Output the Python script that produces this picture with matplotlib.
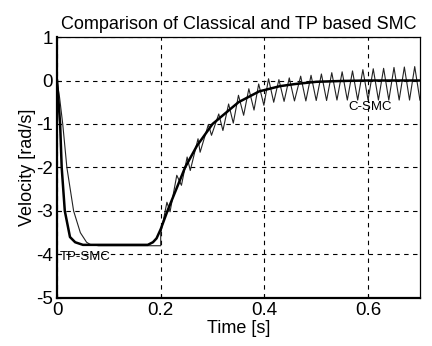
import matplotlib
matplotlib.use("Agg")
import matplotlib.pyplot as plt

plt.rcParams['font.family'] = ['Liberation Sans', 'DejaVu Sans']

# TP-SMC (thick) response
tp_t = [0, 0.003, 0.006, 0.009, 0.015, 0.025, 0.035, 0.05, 0.175, 0.185, 0.192, 0.2,
        0.213, 0.23, 0.247, 0.27, 0.30, 0.33, 0.35, 0.39, 0.43, 0.46, 0.5, 0.55, 0.6, 0.7]
tp_v = [0, -0.5, -1.0, -2.0, -3.0, -3.6, -3.72, -3.78, -3.78, -3.72, -3.63, -3.42,
        -3.0, -2.5, -2.0, -1.5, -1.0, -0.7, -0.5, -0.25, -0.13, -0.08, -0.03, -0.01, 0, 0]

# Classical SMC (thin) response
c_t = [0, 0.005, 0.011, 0.019, 0.032, 0.045, 0.057, 0.064, 0.08, 0.2, 0.2,
       0.212, 0.218, 0.231, 0.240, 0.251, 0.257, 0.272, 0.276, 0.292, 0.298,
       0.312, 0.320, 0.331, 0.340, 0.350, 0.360, 0.370, 0.380, 0.389, 0.399,
       0.408, 0.418, 0.428, 0.438, 0.448, 0.458, 0.47, 0.48, 0.49, 0.50,
       0.51, 0.52, 0.53, 0.54, 0.55, 0.56, 0.57, 0.58, 0.59, 0.60,
       0.61, 0.62, 0.63, 0.64, 0.65, 0.66, 0.67, 0.68, 0.69, 0.70]
c_v = [0, -0.4, -1.0, -2.0, -3.0, -3.5, -3.72, -3.77, -3.8, -3.8, -3.52,
       -2.80, -3.02, -2.18, -2.41, -1.76, -2.07, -1.34, -1.65, -1.01, -1.26,
       -0.77, -1.15, -0.54, -0.98, -0.34, -0.80, -0.19, -0.68, -0.08, -0.57,
       0.04, -0.50, 0.02, -0.48, 0.06, -0.47, 0.10, -0.47, 0.12, -0.46,
       0.15, -0.46, 0.18, -0.45, 0.20, -0.45, 0.22, -0.45, 0.25, -0.45,
       0.27, -0.45, 0.28, -0.45, 0.30, -0.45, 0.31, -0.45, 0.32, -0.45]

x_ticks = [0, 0.2, 0.4, 0.6]
x_tick_labels = ['0', '0.2', '0.4', '0.6']
y_ticks = [1, 0, -1, -2, -3, -4, -5]
y_tick_labels = ['1', '0', '-1', '-2', '-3', '-4', '-5']

fig = plt.figure(figsize=(4.32, 3.46), dpi=100)
ax = fig.add_axes([0.132, 0.139, 0.840, 0.754])

ax.plot(c_t, c_v, color='#222222', lw=0.8)
ax.plot(tp_t, tp_v, color='black', lw=1.8)

ax.set_xlim(0, 0.7)
ax.set_ylim(-5, 1)
ax.set_xticks(x_ticks)
ax.set_xticklabels(x_tick_labels)
ax.set_yticks(y_ticks)
ax.set_yticklabels(y_tick_labels)
ax.tick_params(direction='in', length=3, labelsize=13.5)
ax.tick_params(axis='x', pad=3)
ax.tick_params(axis='y', pad=3)
ax.grid(True, color='black', linestyle=(0, (4, 4)), linewidth=0.8)
ax.set_axisbelow(True)
for side in ['left', 'bottom']:
    ax.spines[side].set_linewidth(1.6)
for side in ['right', 'top']:
    ax.spines[side].set_linewidth(0.9)

ax.set_title('Comparison of Classical and TP based SMC', fontsize=13, pad=6)
ax.set_xlabel('Time [s]', fontsize=13, labelpad=1)
ax.set_ylabel('Velocity [rad/s]', fontsize=13, labelpad=0)

ax.text(0.005, -4.05, 'TP-SMC', fontsize=9.5, ha='left', va='center')
ax.text(0.562, -0.62, 'C-SMC', fontsize=9.5, ha='left', va='center')

fig.savefig('out.png', dpi=100)
